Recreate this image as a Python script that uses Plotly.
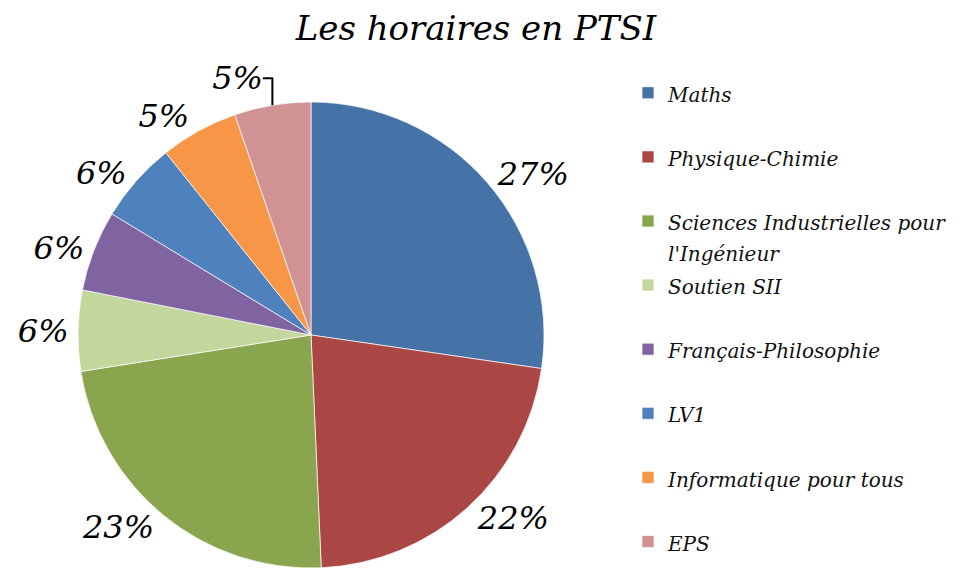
import plotly.graph_objects as go

categories = ["Maths", "Physique-Chimie", "Sciences Industrielles pour l'Ingénieur",
              "Soutien SII", "Français-Philosophie", "LV1",
              "Informatique pour tous", "EPS"]
shares = [27.3, 22.0, 23.2, 5.6, 5.6, 5.6, 5.4, 5.3]
colors = ["#4572A7", "#AA4643", "#89A54E", "#C3D69B",
          "#8064A2", "#4F81BD", "#F79646", "#D09292"]

SERIF = "DejaVu Serif"

def legend_label(name, last):
    span = '<span style="font-size:20px">%s</span>'
    if name.startswith("Sciences Industrielles pour "):
        a, b = name.split("pour ", 1)
        return span % (a + "pour") + "<br>" + span % b
    if last:
        return span % name
    return span % name + "<br>&nbsp;"

labels = [legend_label(c, i == len(categories) - 1) for i, c in enumerate(categories)]

W, H = 965, 572
cx, cy, r = 311, 335, 233

fig = go.Figure(go.Pie(
    labels=labels,
    values=shares,
    sort=False,
    direction="clockwise",
    rotation=0,
    marker=dict(colors=colors, line=dict(color="white", width=0.7)),
    texttemplate="%{percent:.0%}",
    textposition="outside",
    outsidetextfont=dict(family=SERIF, size=32, color="black", style="italic"),
    domain=dict(x=[(cx - r) / W, (cx + r) / W],
                y=[(H - cy - r) / H, (H - cy + r) / H]),
    hovertemplate="%{label}: %{percent}<extra></extra>",
))

fig.update_layout(
    width=W, height=H,
    margin=dict(l=0, r=0, t=0, b=0),
    paper_bgcolor="white",
    plot_bgcolor="white",
    title=dict(text="Les horaires en PTSI", x=476 / W, xanchor="center",
               y=1 - 28 / H, yanchor="middle",
               font=dict(family=SERIF, size=34, color="black", style="italic")),
    legend=dict(x=628 / W, xanchor="left", y=1 - 71 / H, yanchor="top",
                valign="top",
                font=dict(family=SERIF, size=23.5, color="#111111", style="italic"),
                bgcolor="rgba(0,0,0,0)"),
    showlegend=True,
)

fig.write_html("out.html", config={"displayModeBar": False},
               post_script="document.body.style.margin='0';document.body.style.overflow='hidden';")
